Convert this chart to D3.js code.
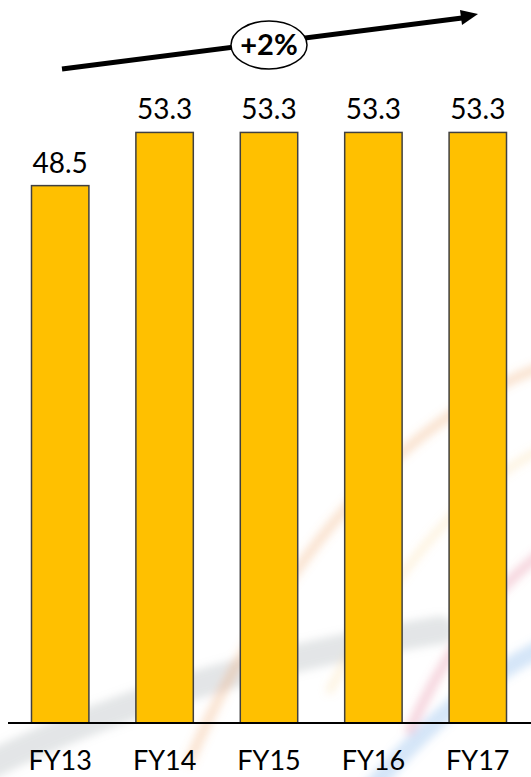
<!DOCTYPE html>
<html><head><meta charset="utf-8">
<script src="https://cdn.jsdelivr.net/npm/d3@7"></script>
<style>html,body{margin:0;padding:0;background:#fff;overflow:hidden}svg{display:block}</style>
</head><body>
<script>
const categories = ["FY13","FY14","FY15","FY16","FY17"];
const values = [48.5, 53.3, 53.3, 53.3, 53.3];
const growthLabel = "+2%";

const W = 531, H = 777;
const svg = d3.select("body").append("svg").attr("width", W).attr("height", H);

// faint decorative watermark
const defs = svg.append("defs");
defs.append("filter").attr("id","blur").append("feGaussianBlur").attr("stdDeviation", 4);
const wm = svg.append("g").attr("filter","url(#blur)").attr("fill","none").attr("stroke-linecap","round");
wm.append("path").attr("d","M-20,770 C120,700 260,660 440,630").attr("stroke","#9aa0a8").attr("stroke-width",28).attr("opacity",0.28);
wm.append("path").attr("d","M190,760 C260,600 380,420 560,360").attr("stroke","#f0a060").attr("stroke-width",10).attr("opacity",0.3);
wm.append("path").attr("d","M330,690 C400,560 470,480 560,440").attr("stroke","#f6d080").attr("stroke-width",8).attr("opacity",0.25);
wm.append("path").attr("d","M410,730 C450,640 500,580 560,540").attr("stroke","#e07090").attr("stroke-width",10).attr("opacity",0.3);
wm.append("path").attr("d","M370,790 C430,720 490,670 560,640").attr("stroke","#70a8e8").attr("stroke-width",18).attr("opacity",0.3);

const x = d3.scaleBand().domain(categories).range([8, 530]).paddingInner(0.45).paddingOuter(0.225);
const y = d3.scaleLinear().domain([0, 60]).range([723, 723 - 60 * 11.08]);

svg.append("g").selectAll("rect").data(values).join("rect")
  .attr("x", (d,i) => x(categories[i]))
  .attr("y", d => y(d))
  .attr("width", x.bandwidth())
  .attr("height", d => y(0) - y(d))
  .attr("fill", "#FFC000")
  .attr("stroke", "#404040")
  .attr("stroke-width", 1.5);

svg.append("g").selectAll("text").data(values).join("text")
  .attr("x", (d,i) => x(categories[i]) + x.bandwidth()/2)
  .attr("y", d => y(d) - 13)
  .attr("text-anchor","middle")
  .attr("font-family","Lato, 'Open Sans', sans-serif")
  .attr("font-size", 28)
  .attr("fill","#000")
  .text(d => d.toFixed(1));

// axis
const xAxis = svg.append("g").attr("transform", `translate(0,${y(0)})`)
  .call(d3.axisBottom(x).tickSize(0).tickPadding(0));
xAxis.select(".domain").attr("d", "M8,0H531").attr("stroke","#000").attr("stroke-width",2);
xAxis.selectAll("text")
  .attr("font-family","Lato, 'Open Sans', sans-serif")
  .attr("font-size", 27)
  .attr("fill","#000")
  .attr("dy", null)
  .attr("y", 47);

// growth arrow
const ax0 = 62, ay0 = 69, ax1 = 462, ay1 = 18;
svg.append("line").attr("x1",ax0).attr("y1",ay0).attr("x2",ax1).attr("y2",ay1)
  .attr("stroke","#000").attr("stroke-width",5);
svg.append("path").attr("d","M460,10 L478,14 L462,25 Z").attr("fill","#000");
svg.append("ellipse").attr("cx",269).attr("cy",45).attr("rx",38).attr("ry",24)
  .attr("fill","#fff").attr("stroke","#000").attr("stroke-width",1.5);
svg.append("text").attr("x",269).attr("y",55).attr("text-anchor","middle")
  .attr("font-family","Lato, 'Open Sans', sans-serif").attr("font-weight","bold")
  .attr("font-size",29).text(growthLabel);
</script>
</body></html>
